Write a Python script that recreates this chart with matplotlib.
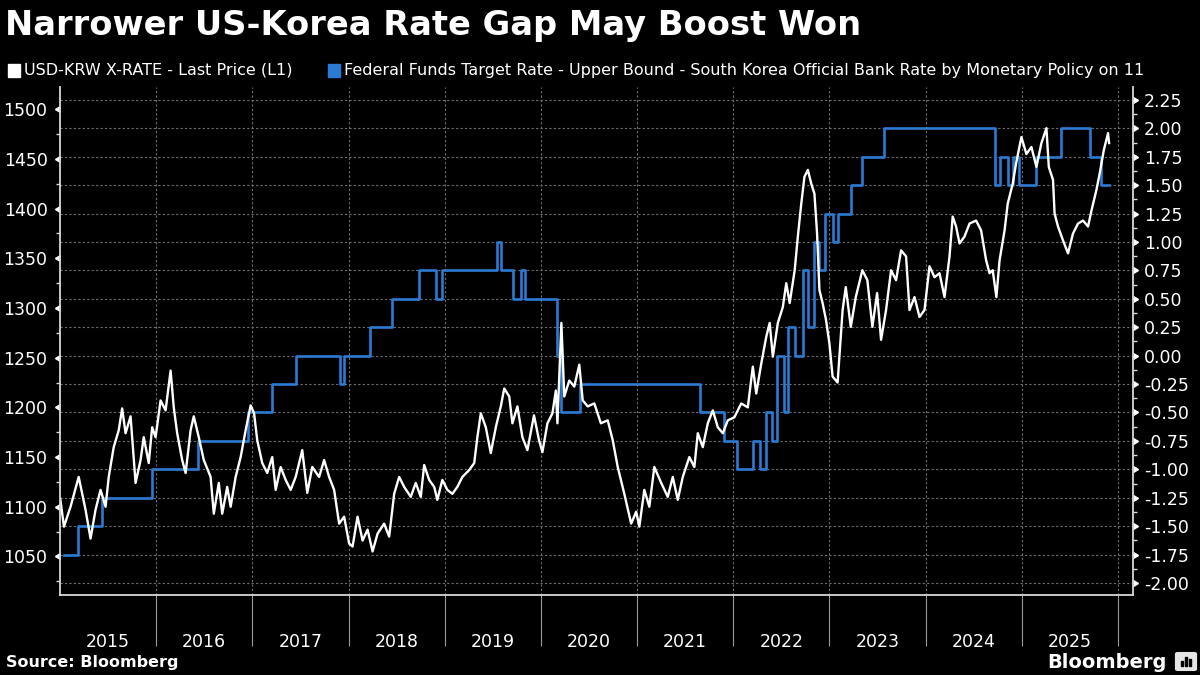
import matplotlib
matplotlib.use('Agg')
import matplotlib.pyplot as plt
import matplotlib.ticker as mticker
import matplotlib.markers as mmarkers
from matplotlib.patches import Rectangle, FancyBboxPatch
import numpy as np

# ---- data ----
krw_dates = [
    '2015-01-02', '2015-01-16', '2015-02-10', '2015-03-13', '2015-04-08', '2015-04-27', '2015-05-16',
    '2015-06-04', '2015-06-23', '2015-07-05', '2015-07-24', '2015-08-12', '2015-08-25', '2015-09-07',
    '2015-09-26', '2015-10-15', '2015-11-03', '2015-11-15', '2015-12-04', '2015-12-17', '2015-12-30',
    '2016-01-18', '2016-02-06', '2016-02-25', '2016-03-08', '2016-03-21', '2016-04-09', '2016-04-22',
    '2016-05-11', '2016-05-23', '2016-06-11', '2016-06-30', '2016-07-26', '2016-08-07', '2016-08-26',
    '2016-09-08', '2016-09-27', '2016-10-10', '2016-10-29', '2016-11-17', '2016-12-06', '2016-12-25',
    '2017-01-07', '2017-01-19', '2017-02-07', '2017-02-26', '2017-03-17', '2017-03-30', '2017-04-18',
    '2017-05-07', '2017-05-26', '2017-06-14', '2017-07-09', '2017-07-28', '2017-08-16', '2017-09-11',
    '2017-09-30', '2017-10-19', '2017-11-07', '2017-11-26', '2017-12-15', '2018-01-03', '2018-01-16',
    '2018-02-04', '2018-02-23', '2018-03-14', '2018-04-02', '2018-04-21', '2018-05-16', '2018-06-04',
    '2018-06-23', '2018-07-12', '2018-07-31', '2018-08-25', '2018-09-13', '2018-10-02', '2018-10-15',
    '2018-11-03', '2018-11-22', '2018-12-04', '2018-12-23', '2019-01-11', '2019-01-30', '2019-02-18',
    '2019-03-09', '2019-04-04', '2019-04-23', '2019-05-05', '2019-05-18', '2019-06-06', '2019-06-25',
    '2019-07-14', '2019-08-02', '2019-08-15', '2019-09-03', '2019-09-15', '2019-10-04', '2019-10-23',
    '2019-11-11', '2019-12-06', '2019-12-25', '2020-01-07', '2020-01-26', '2020-02-14', '2020-02-27',
    '2020-03-04', '2020-03-19', '2020-03-30', '2020-04-18', '2020-05-07', '2020-05-26', '2020-06-08',
    '2020-06-27', '2020-07-22', '2020-08-16', '2020-09-11', '2020-09-30', '2020-10-19', '2020-11-13',
    '2020-12-09', '2020-12-28', '2021-01-09', '2021-01-28', '2021-02-16', '2021-03-07', '2021-04-02',
    '2021-04-27', '2021-05-16', '2021-06-04', '2021-06-23', '2021-07-18', '2021-08-06', '2021-08-19',
    '2021-09-07', '2021-09-26', '2021-10-15', '2021-11-03', '2021-11-22', '2021-12-11', '2022-01-05',
    '2022-01-31', '2022-02-25', '2022-03-16', '2022-03-29', '2022-04-17', '2022-05-06', '2022-05-19',
    '2022-05-31', '2022-06-19', '2022-07-08', '2022-07-21', '2022-08-03', '2022-08-22', '2022-09-03',
    '2022-09-16', '2022-09-28', '2022-10-11', '2022-10-24', '2022-11-05', '2022-11-15', '2022-11-24',
    '2022-12-06', '2022-12-19', '2023-01-01', '2023-01-13', '2023-02-01', '2023-02-20', '2023-03-04',
    '2023-03-23', '2023-04-11', '2023-05-06', '2023-05-25', '2023-06-13', '2023-07-01', '2023-07-16',
    '2023-08-04', '2023-08-23', '2023-09-11', '2023-09-30', '2023-10-19', '2023-11-01', '2023-11-20',
    '2023-12-09', '2023-12-28', '2024-01-16', '2024-02-04', '2024-02-23', '2024-03-13', '2024-04-01',
    '2024-04-13', '2024-04-26', '2024-05-09', '2024-05-28', '2024-06-16', '2024-07-11', '2024-07-30',
    '2024-08-18', '2024-08-31', '2024-09-12', '2024-09-26', '2024-10-08', '2024-10-27', '2024-11-08',
    '2024-11-27', '2024-12-10', '2024-12-30', '2025-01-18', '2025-02-06', '2025-02-25', '2025-03-16',
    '2025-04-04', '2025-04-13', '2025-04-29', '2025-05-05', '2025-05-18', '2025-06-06', '2025-06-25',
    '2025-07-14', '2025-08-02', '2025-08-21', '2025-09-09', '2025-09-22', '2025-10-11', '2025-10-23',
    '2025-11-08', '2025-11-24', '2025-11-28',
]
krw_values = [
    1108, 1080, 1100, 1130, 1097, 1068, 1097,
    1117, 1100, 1130, 1160, 1177, 1199, 1174,
    1191, 1124, 1147, 1170, 1144, 1180, 1170,
    1207, 1197, 1237, 1200, 1174, 1147, 1134,
    1177, 1191, 1170, 1147, 1130, 1093, 1124,
    1093, 1120, 1100, 1130, 1150, 1177, 1202,
    1194, 1167, 1144, 1134, 1150, 1117, 1140,
    1127, 1117, 1130, 1157, 1114, 1140, 1130,
    1147, 1130, 1117, 1083, 1090, 1063, 1060,
    1090, 1066, 1077, 1055, 1073, 1083, 1070,
    1113, 1130, 1120, 1110, 1124, 1110, 1142,
    1127, 1120, 1107, 1127, 1117, 1113, 1120,
    1130, 1137, 1144, 1170, 1194, 1180, 1154,
    1180, 1201, 1219, 1211, 1184, 1201, 1170,
    1157, 1192, 1167, 1155, 1184, 1194, 1217,
    1184, 1285, 1211, 1227, 1221, 1243, 1207,
    1201, 1204, 1184, 1187, 1167, 1140, 1113,
    1083, 1095, 1080, 1117, 1100, 1140, 1124,
    1110, 1130, 1107, 1130, 1150, 1140, 1174,
    1160, 1184, 1197, 1180, 1174, 1187, 1190,
    1204, 1200, 1241, 1214, 1244, 1271, 1285,
    1251, 1285, 1301, 1325, 1305, 1338, 1372,
    1405, 1432, 1439, 1425, 1415, 1375, 1318,
    1305, 1288, 1264, 1231, 1225, 1298, 1321,
    1281, 1311, 1338, 1328, 1281, 1315, 1268,
    1298, 1338, 1328, 1358, 1352, 1298, 1311,
    1291, 1298, 1342, 1331, 1335, 1311, 1352,
    1392, 1382, 1365, 1372, 1385, 1388, 1378,
    1348, 1335, 1338, 1311, 1348, 1378, 1405,
    1425, 1446, 1472, 1455, 1462, 1442, 1466,
    1481, 1442, 1429, 1395, 1382, 1368, 1355,
    1375, 1385, 1388, 1382, 1398, 1419, 1435,
    1459, 1476, 1466,
]

# Fed upper bound minus BOK base rate, changes only
gap_dates = [
    '2015-01-15', '2015-03-12', '2015-06-11', '2015-12-17', '2016-06-09', '2016-12-15', '2017-03-16',
    '2017-06-15', '2017-11-30', '2017-12-14', '2018-03-22', '2018-06-14', '2018-09-27', '2018-11-30',
    '2018-12-20', '2019-07-18', '2019-08-01', '2019-09-19', '2019-10-16', '2019-10-31', '2020-03-04',
    '2020-03-16', '2020-05-28', '2021-08-26', '2021-11-25', '2022-01-14', '2022-03-17', '2022-04-14',
    '2022-05-05', '2022-05-26', '2022-06-16', '2022-07-13', '2022-07-28', '2022-08-25', '2022-09-22',
    '2022-10-12', '2022-11-03', '2022-11-24', '2022-12-15', '2023-01-13', '2023-02-02', '2023-03-23',
    '2023-05-04', '2023-07-27', '2024-09-19', '2024-10-11', '2024-11-08', '2024-11-28', '2024-12-19',
    '2025-02-25', '2025-05-29', '2025-09-18', '2025-10-30', '2025-11-28',
]
gap_values = [
    -1.75, -1.50, -1.25, -1.00, -0.75, -0.50, -0.25,
    0.00, -0.25, 0.00, 0.25, 0.50, 0.75, 0.50,
    0.75, 1.00, 0.75, 0.50, 0.75, 0.50, 0.00,
    -0.50, -0.25, -0.50, -0.75, -1.00, -0.75, -1.00,
    -0.50, -0.75, 0.00, -0.50, 0.25, 0.00, 0.75,
    0.25, 1.00, 0.75, 1.25, 1.00, 1.25, 1.50,
    1.75, 2.00, 1.50, 1.75, 1.50, 1.75, 1.50,
    1.75, 2.00, 1.75, 1.50, 1.50,
]

years = list(range(2015, 2026))
title = 'Narrower US-Korea Rate Gap May Boost Won'
krw_label = 'USD-KRW X-RATE - Last Price (L1)'
gap_label = ('Federal Funds Target Rate - Upper Bound - South Korea Official Bank Rate '
             'by Monetary Policy on 11')

BG = 'black'
BLUE = '#2b7bd4'
GRID = '#707070'
SPINE = '#d8d8d8'

krw_x = np.array(krw_dates, dtype='datetime64[D]')
gap_x = np.array(gap_dates, dtype='datetime64[D]')

fig = plt.figure(figsize=(12, 6.75), dpi=100, facecolor=BG)
ax = fig.add_axes([0.05, 0.1185, 0.894, 0.7526])
ax2 = ax.twinx()
# KRW line (left axis) sits on top of the rate-gap step line
ax.set_zorder(ax2.get_zorder() + 1)
ax.patch.set_visible(False)

ax2.step(gap_x, gap_values, where='post', color=BLUE, lw=1.9)
ax.plot(krw_x, krw_values, color='white', lw=1.7)

ax.set_xlim(np.datetime64('2015-01-01'), np.datetime64('2026-02-26'))
ax.set_ylim(1011.2, 1522.4)
ax2.set_ylim(-2.106, 2.364)

# x axis: year boundaries as long ticks, year names centred in between
bounds = [np.datetime64(f'{y}-01-01').astype('datetime64[D]').astype(float) for y in range(2016, 2027)]
mids = [np.datetime64(f'{y}-07-02').astype('datetime64[D]').astype(float) for y in years]
ax.xaxis.set_major_locator(mticker.FixedLocator(bounds))
ax.xaxis.set_major_formatter(mticker.NullFormatter())
ax.xaxis.set_minor_locator(mticker.FixedLocator(mids))
ax.xaxis.set_minor_formatter(mticker.FixedFormatter([str(y) for y in years]))
ax.tick_params(axis='x', which='major', length=37, width=0.8, color='#9a9a9a', direction='out')
ax.tick_params(axis='x', which='minor', length=0, pad=27, labelsize=12.5, labelcolor='white')
ax.grid(axis='x', which='major', color=GRID, ls=(0, (2, 2)), lw=0.8)

# left axis
ax.yaxis.set_major_locator(mticker.MultipleLocator(50))
ax.yaxis.set_minor_locator(mticker.MultipleLocator(25))
ax.tick_params(axis='y', which='major', length=5, width=1, color='white',
               labelsize=12.5, labelcolor='white', pad=4)
ax.tick_params(axis='y', which='minor', length=3, width=1, color=SPINE)
for t in ax.yaxis.get_major_ticks():
    t.tick1line.set_marker(mmarkers.CARETLEFTBASE)

# right axis
ax2.yaxis.set_major_locator(mticker.MultipleLocator(0.25))
ax2.yaxis.set_minor_locator(mticker.MultipleLocator(0.125))
ax2.yaxis.set_major_formatter(mticker.FormatStrFormatter('%.2f'))
ax2.tick_params(axis='y', which='major', length=5, width=1, color='white',
                labelsize=12.5, labelcolor='white', pad=3)
ax2.tick_params(axis='y', which='minor', length=3, width=1, color=SPINE)
for t in ax2.yaxis.get_major_ticks():
    t.tick2line.set_marker(mmarkers.CARETRIGHTBASE)
ax2.grid(axis='y', which='major', color=GRID, ls=(0, (2, 2)), lw=0.8)

for s in ax2.spines.values():
    s.set_visible(False)
ax.spines['top'].set_visible(False)
for side in ['left', 'bottom', 'right']:
    ax.spines[side].set_color(SPINE)
    ax.spines[side].set_linewidth(1.3)

# title and legend
fig.text(5 / 1200, 1 - 25 / 675, title, color='white', fontsize=24.2, weight='bold', va='center')
fig.add_artist(Rectangle((8 / 1200, 1 - 77 / 675), 12 / 1200, 13 / 675,
                         transform=fig.transFigure, color='white'))
fig.text(24 / 1200, 1 - 70 / 675, krw_label, color='white', fontsize=11.5, va='center')
fig.add_artist(Rectangle((328 / 1200, 1 - 77 / 675), 12 / 1200, 13 / 675,
                         transform=fig.transFigure, color=BLUE))
fig.text(344 / 1200, 1 - 70 / 675, gap_label, color='white', fontsize=11.5, va='center')

# footer
fig.text(6 / 1200, 1 - 662 / 675, 'Source: Bloomberg', color='white', fontsize=11.5,
         weight='bold', va='center')
fig.text(1167 / 1200, 1 - 662 / 675, 'Bloomberg', color='white', fontsize=14,
         weight='bold', va='center', ha='right')
fig.add_artist(FancyBboxPatch((1178 / 1200, 1 - 669 / 675), 16 / 1200, 15 / 675,
                              boxstyle='round,pad=0.002', transform=fig.transFigure,
                              color='#e6e6e6'))
for i, h in enumerate([5, 9, 7]):
    fig.add_artist(Rectangle(((1181 + i * 4) / 1200, 1 - 666 / 675), 2 / 1200, h / 675,
                             transform=fig.transFigure, color='black'))

fig.savefig('out.png', dpi=100, facecolor=BG)
